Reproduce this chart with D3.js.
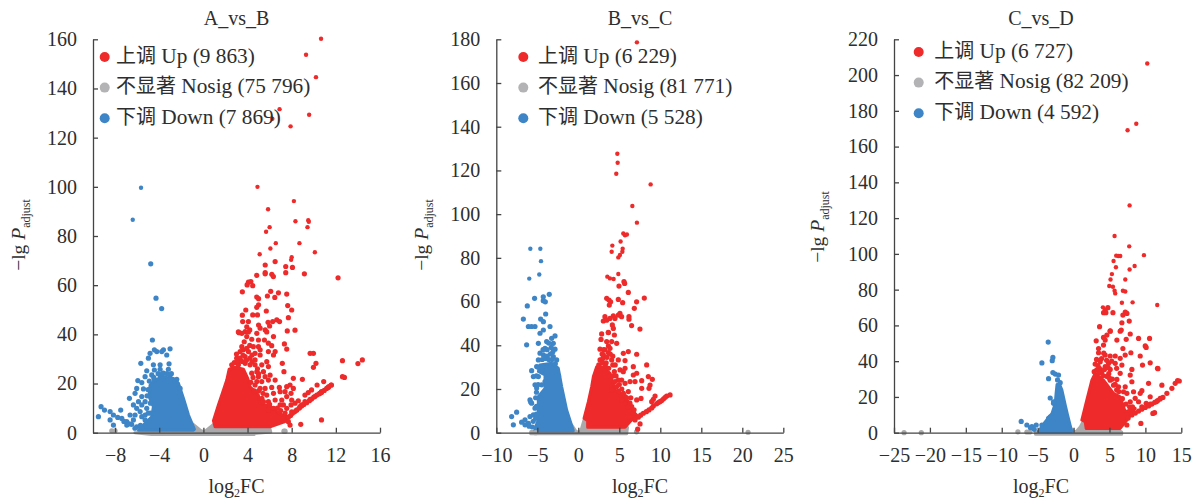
<!DOCTYPE html>
<html>
<head>
<meta charset="utf-8">
<script src="https://cdn.jsdelivr.net/npm/d3@7"></script>
<style>
  body { margin: 0; background: #fff; }
  text { font-family: "Liberation Serif", "Noto Sans CJK SC", serif; fill: #2e2e2e; }
</style>
</head>
<body>
<div id="chart"></div>
<script>
// legend
const legendCn = ["上调", "不显著", "下调"];
const legendEn = ["Up", "Nosig", "Down"];
const abCounts = ["9 863", "75 796", "7 869"];
const bcCounts = ["6 229", "81 771", "5 528"];
const cdCounts = ["6 727", "82 209", "4 592"];

// tick values
const abXTicks = [-8, -4, 0, 4, 8, 12, 16];
const abYTicks = [0, 20, 40, 60, 80, 100, 120, 140, 160];
const bcXTicks = [-10, -5, 0, 5, 10, 15, 20, 25];
const bcYTicks = [0, 20, 40, 60, 80, 100, 120, 140, 160, 180];
const cdXTicks = [-25, -20, -15, -10, -5, 0, 5, 10, 15];
const cdYTicks = [0, 20, 40, 60, 80, 100, 120, 140, 160, 180, 200, 220];

// the solid part of each volcano is too dense to read point by point,
// so it is kept as an outline [log2FC, -lg P]
const abUpCloud = [[1.06,2.4],[.91,4.9],[1.36,11.3],[1.72,16],[2.12,21.4],[2.33,25.8],[2.87,26.6],[3.63,25.8],[4.02,22.1],[4.23,18.7],[4.98,15.3],[5.14,12],[6.19,10.3],[6.95,7.6],[7.7,6.3],[7.4,4.5],[6.04,2.4]];
const abDownCloud = [[-5.88,1],[-5.28,3.8],[-4.68,6.5],[-4.53,10.6],[-4.92,14.7],[-4.83,19.4],[-4.53,20.8],[-3.77,22.8],[-2.71,22.1],[-2.26,20.1],[-1.81,14],[-1.35,7.2],[-.81,1.4],[-.9,1]];
const abNosigCloud = [[-4.7,-.7],[-6.2,0],[-1,.5],[-.95,3.5],[-.25,.9],[0,.4],[.25,.9],[.95,3.5],[1,2],[6,2.2],[6.1,.3],[4.6,-.3],[4.6,-.7]];

const bcUpCloud = [[1.14,2.5],[1.14,5.5],[.7,6.6],[1.23,14.2],[1.63,21.1],[1.84,25.7],[2.24,30.2],[2.85,30.2],[3.87,27.2],[4.48,19.6],[5.09,18],[6.1,14.2],[6.51,10.4],[7.12,8.1],[6.3,5],[5.7,2.5]];
const bcDownCloud = [[-5.28,.9],[-5.28,2],[-4.87,5.9],[-4.88,16.5],[-4.06,20.3],[-4.06,26.4],[-4.87,28],[-4.67,31],[-3.25,31.8],[-2.44,29.5],[-2.03,21.1],[-1.42,10.4],[-.61,.9]];
const bcNosigCloud = [[-5.8,-.5],[-5.8,.5],[-.85,.5],[-.8,3.5],[-.3,.7],[0,.3],[.3,.7],[.7,5.8],[1.1,5],[1.14,2.5],[6,2.5],[5.9,-.5]];

const cdUpCloud = [[1.76,2.4],[1.62,6.1],[1.15,7.1],[1.85,18.3],[2.55,29.4],[3.01,33.2],[4.17,29.4],[5.57,22],[6.49,20.1],[7.19,11.7],[8.58,13.6],[7.42,7.1],[6.49,2.4]];
const cdDownCloud = [[-4.87,.7],[-3.95,6],[-3,10.8],[-2.55,16.4],[-2.41,23],[-2.3,27],[-1.95,27],[-1.63,24],[-1.16,15.4],[-.84,10],[-.5,4.5],[-.25,.7]];
const cdNosigCloud = [[-5.3,-.9],[-5.3,.4],[-.25,.7],[-.2,2],[.1,.4],[.4,.8],[.9,3],[1.3,6],[1.76,2.4],[6,2],[6.7,.4],[6.7,-.9]];

// scattered points [log2FC, -lg P]
const abUp = [[10.66,160.2],[9.3,153.7],[10.2,144.6],[6.9,131.6],[6.25,127.7],[9.58,129.3],[7.9,124.6],[4.9,100],[8.2,94.2],[5.86,90.9],[9.5,86.4],[9.55,85.8],[8.34,86],[6,83.6],[9.43,83.6],[5.68,81.7],[6.56,77.1],[8.7,77.1],[6.07,74.9],
  [10.1,73.4],[5.1,72.6],[8,71.4],[7.95,70.3],[6.5,69.6],[5.6,68.2],[7.46,67.6],[8.07,67.2],[7.46,65.1],[5.6,65.1],[5.6,64.6],[9.15,64.6],[4.83,64],[6.2,64.4],[6.34,63.5],[12.2,63],[4.08,61.2],[4.3,61.5],[3.96,60.1],[4.47,59.8],[3.53,57.3],[6.1,57.5],[6.8,56.9],[7.55,56.4],[5.8,55.6],[4.83,55.2],[5,54.5],[6.47,55],[5,52],[4.83,51],[7.64,51.7],[3.84,49.9],[8,49.9],[5.7,49.5],[3.53,47.8],[4.47,47.9],[4.9,47.9],[7.7,46.8],[6.65,45.9],[6.9,45.2],[5.86,44.9],[6.28,45.2],[3.56,45.2],[4.08,45.2],[5,43.8],[3.93,43.1],[6,43.4],[8.3,41.7],[7.6,41.4],[5.6,41.8],[3.23,40.7],[3.78,41.1],[4.2,41.8],[5.14,42.5],
  [14.4,29.6],[14,28.1],[12.78,22.5],
  [3.17,41],[3.48,40.4],[4.08,41],[4.84,40.4],[5.74,41],[6.35,39.1],[4.99,37.7],[4.38,38],[3.93,39.1],[5.53,37.7],[5.89,36.4],[6.19,35.4],[3.48,35],[3.63,33.7],[3.93,34.3],[4.53,35],[4.99,35],[5.14,33.7],[4.68,32.3],[4.08,33],[3.33,33],[3.02,30.3],[3.33,30.3],[3.78,31],[4.23,30.3],[4.68,29.6],[5.14,31.6],[5.89,33],[6.5,33],[6.35,31.6],[5.74,28.9],[5.29,27.6],[4.68,27.6],[4.23,27.6],[3.78,28.2],[3.17,27.6],[2.57,27.6],[5.89,26.9],[5.44,24.8],[4.84,24.8],[4.38,24.2],[4.99,22.8],[5.59,22.8],[6.04,23.4],[5.89,21.4],[4.84,20.8],[5.29,20.8],[6.5,21.4],[5.14,18],[4.68,19.4],[5.59,18],[6.19,18.4],[6.88,18.4],[7.55,18.7],[7.85,19.4],[5.74,15.3],[6.35,16],[6.95,16.7],[7.4,16.7],[7.94,16],[8.15,18],[5.44,12.6],[5.89,12.6],[6.5,13.3],[7.1,13.3],[7.55,14.7],[7.25,11.3],[6.95,11.3],[5.89,9.2],[6.35,9.9],[7.55,9.9],[8,13.3],[8.3,12],[8.6,13],[7.94,11.3],[9.2,15.3],[9.5,16.3],[9.8,17.4],[10.3,19.4],[10.9,20.8],[8.15,22.1],[8.97,21.7],[10.7,16.7],[10.55,16],[11.3,18.4],[11.6,19.4],[9.2,12.6],[8.9,11.3],[9.67,13.6],[10.1,14.7],[8.45,9.2],[8,8.5],[8.75,10.6],[7.7,4.5],[7.85,3.1],[8.82,3.4],[10.7,5.2],[7.34,36.1],[7.55,34],[7.15,28.2],[7.3,24.8],[9.97,32.3],[9.67,32.3],[10.2,28.2],[9.97,26.6],[12.6,29.3],[12.6,22.8],
  [7.7,6.3],[7.9,7],[8.06,7.9],[8.26,8.5],[8.46,9.2],[8.7,10],[8.9,10.9],[9.1,11.5],[9.36,12.2],[9.6,13],[9.8,13.7],[10,14.5],[10.27,15.3],[10.5,15.8],[10.7,16.4],[10.95,17.2],[11.17,18],[11.37,18.7],[11.57,19.4],
  [2.8,28.5],[3.1,29],[3.5,29],[3.9,29.5],[4.4,28.8],[4.9,26],[5,24],[4.5,22.5],[4.3,20.5],[4.6,17],[5,17],[5.4,16],[3,32],[3.6,31.5],[4.4,31.6],[4.2,35.5],[3.7,37],[5.3,14],[6,11.5],[6.7,10],[7,9],[7.4,8]];
const abDown = [[-5.65,99.6],[-6.4,86.6],[-4.77,68.7],[-4.29,54.7],[-3.78,50.5],[-4.62,37.7],[-4.44,33.7],[-4.22,33],[-4.83,32.3],[-3.62,33.7],[-3.02,34.1],[-3.77,33],[-3.32,31.6],[-4.98,30.3],[-5.67,28.2],[-4.53,27.6],[-3.92,27.6],[-3.11,28],[-4.44,25.5],[-5.13,25.2],[-3.92,25.8],[-5.28,22.8],[-5.94,21.2],[-5.58,20.4],[-3.92,23.5],[-3.17,25.8],[-3.02,23.5],[-2.41,21.7],[-3.62,24.2],[-4.68,23.5],[-4.44,21.7],[-6.04,18],[-5.43,17.8],[-6.19,16],[-6.7,14],[-5.58,14.7],[-5.88,12.6],[-5.28,12.6],[-6.34,11.3],[-6.04,9.9],[-5.58,11.3],[-5.13,9.9],[-6.19,7.2],[-5.73,8.6],[-6.64,7.2],[-9.27,10.6],[-8.96,9.2],[-8.45,8.6],[-8.15,7.2],[-7.49,9.2],[-9.51,6.5],[-8.45,5.2],[-8.15,3.1],[-7.76,6.2],[-7.39,5.8],[-6.94,4.5],[-6.34,5.2],[-6.94,3.1],[-5.58,6.5],[-5.28,7.2],[-6.04,2.4],[-2.56,20.8],[-2.11,18],[-5.28,5.2],[-6.5,3.4],[-5.7,3],[-6.2,1.8],[-5.6,2],[-7.2,4.6],[-6.7,3.6],
  [-4.5,22.5],[-4.1,24],[-3.7,24],[-3.3,24],[-2.9,24],[-4.9,21],[-5,17.5],[-5.1,15],[-4.8,12],[-5,8],[-4.8,8],[-2.4,20]];
const abNosig = [[-8.3,.8],[-8,.8],[7.3,.6],[7.4,.6]];

const bcUp = [[7.15,178.6],[4.76,127.6],[4.8,123.5],[4.63,118.5],[8.82,113.6],[6.59,103.7],[7.15,96.1],[5.49,91.2],[5.69,90.3],[5.93,90.7],[5.16,87.5],[4.15,85.6],[5.41,84.2],[4.07,82.8],[5.37,82.8],[5.08,81.3],[4.88,80.2],
  [3.54,71.4],[3.86,70.6],[4.31,70.3],[4.88,72.6],[5.57,69.1],[5.65,68.3],[4.96,67.1],[6.1,64.2],[3.46,61.5],[3.74,60.7],[4.88,61],[5.41,59.5],[3.94,59.9],[3.78,58.4],[8.05,61.6],[7.11,59.9],[6.83,56.9],[5.08,54.6],[4.88,53.8],[4.27,53.5],[3.86,52.3],[3.25,53.1],[3.05,51.1],[3.46,51.5],[4.47,52.3],[5.28,53.1],[6.18,53.1],[6.18,51.9],[6.5,49],[7.52,47.4],[4.15,49.3],[4.27,47.7],[3.66,45.9],[2.85,45.2],[3.67,45.8],[4.4,44.7],[2.77,42.7],[3.46,41.7],[4.07,41.7],[4.68,40.9],[3.67,39.7],[2.65,38.2],[3.26,37.9],[3.87,38.6],[3.67,36.6],[3.06,35.6],[2.65,33.3],[4.07,33.3],[4.88,33.3],[5.49,36.3],[6.1,37.1],[7.12,35.9],[5.7,33],[6.71,30.2],[8.34,31],[5.7,29.5],[5.09,28.7],[5.49,27.9],[7.12,27.2],[6.71,26.4],[8.54,25.7],[9.03,24.4],[6.31,23.4],[6.92,23.4],[7.73,23.8],[8.75,21.8],[8.62,20.3],[7.73,20.3],[6.1,18.8],[7.12,15],[7.65,15.7],[9.36,16.8],[9.15,15.3],[8.95,14.2],[10.78,16.8],[11.19,17.3],[9.76,13.8],[9.15,12.2],[8.62,10.4],[7.93,8.9],[7.32,7.1],[6.71,8.9],[5.7,16.5],[5.29,15],[5.29,24.1],[4.88,24.1],[4.48,23.4],[4.68,21.1],[5.7,22.6],[4.07,19.6],[7.53,4],[7.24,1.6],[6.51,11.9],[6.1,11.9],[10.17,14.7],[6.92,5.8],[4.4,28],[4.2,31],[3.4,32],[3,34],[5.3,20],[6.4,16],[9.55,13.2],[8.95,11.3],[8.3,9.6],[7.6,8],[9.95,14.2],[10.4,15.5],[10.6,16.2],
  [2.5,31],[2.9,32],[3.3,30.5],[3.7,29.5],[4.2,26],[4.6,26],[4.2,35],[4.5,31],[3.5,34.5],[3.1,38],[4.9,19],[5,22],[5.5,18],[5.9,16],[6.3,13.5],[6.8,10.5],[3.9,36],[2.9,36]];
const bcDown = [[-5.85,84.2],[-4.63,84.2],[-4.55,78.5],[-4.76,72.4],[-5.98,70.5],[-3.54,63.3],[-4.27,62.2],[-4.27,60.4],[-4.02,59.9],[-5.33,61.5],[-6.22,58],[-3.98,54.3],[-6.7,52],[-4.59,52],[-4.26,50.8],[-6.09,48.6],[-5.28,48.6],[-5.7,48.6],[-3.45,48.6],[-4.26,47],[-4.67,45.5],[-2.84,44.3],[-3.25,43.2],[-3.86,41.7],[-3.05,40.9],[-4.87,40.9],[-6.3,40.2],[-4.06,38.6],[-2.84,38.2],[-4.67,36.4],[-4.26,35.6],[-3.05,34.8],[-4.87,33.3],[-2.64,33.3],[-5.08,30.3],[-5.69,28.4],[-4.47,28.7],[-5.48,25.7],[-4.87,25.7],[-5.28,21.9],[-5.08,20.4],[-5.89,15],[-5.69,13.5],[-5.81,14],[-5.28,11.2],[-7.52,9.4],[-8.13,7.4],[-7.92,3.6],[-6.5,5.9],[-6.91,4.8],[-6.09,4.3],[-5.89,7.4],[-5.48,8.2],[-4.06,23.4],[-4.47,21.9],[-3.6,41],[-3.3,39],[-3.8,38],[-4.3,38],[-3.4,36],[-3.8,35],[-3.1,37],[-6.5,3.6],[-6,3],[-5.6,2.6],[-5.5,5.2],[-5.2,6.6],
  [-4.4,33.5],[-4,34],[-3.6,33.5],[-3.2,33.5],[-2.8,31.5],[-4.9,30],[-5.1,26],[-4.9,22],[-5.1,18.5],[-5.2,16],[-5.1,12],[-5.1,8.5],[-2.4,26]];
const bcNosig = [[20.7,.2],[7.1,.4],[-5.2,0]];

const cdUp = [[10.26,206.5],[8.73,172.8],[7.52,169.1],[7.8,127.1],[5.71,110],[7.75,104.2],[9.8,99.3],[5.94,99],[6.22,98.8],[6.5,98.8],[5.57,96],[5.9,92.5],[8.5,93.2],[7.8,91.3],[5.34,88.7],[5.15,85.7],[7.2,85.7],[4.97,82],[5.48,81.6],[6.87,79.4],[7.2,79],[5.71,79.4],[5.8,77.9],[6.73,72.7],[8.22,72.9],[11.65,71.4],[4.09,70.1],[4.78,69.9],[4.41,68.6],[4.18,67.1],[4.5,67.1],[5.48,67.1],[7.2,67.5],[7.43,66.7],[6.87,65.8],[6.73,61.5],[7.75,62.4],[3.62,59.3],[5.1,56.9],[6.64,57.4],[7.89,55.2],
  [5.1,56.8],[6.49,56.8],[4.64,54.6],[4.17,53.3],[3.15,51.4],[4.4,51.8],[6.03,51.8],[7.33,52.2],[9.05,52.7],[10.58,52.7],[4.17,49],[3.48,47.1],[3.48,44.7],[6.87,47.1],[7.98,44.7],[7.19,43.4],[9.98,48.5],[10.11,47.7],[9.28,42.9],[4.4,43.4],[5.1,42.9],[5.8,42.9],[6.49,41.6],[3.71,39.7],[3.01,38.4],[4.87,38.8],[4.4,36.9],[5.8,38.8],[6.73,37.8],[9.6,37.8],[10.67,39.1],[11.69,36],[2.87,34.1],[3.94,34.1],[5.1,35.4],[6.49,33.2],[8.12,35.4],[7.89,32.2],[8.12,28.5],[6.03,29.8],[10.44,27.6],[12.3,26.6],[14.48,29.1],[14.15,27.6],[13.69,24.8],[12.99,22],[9.51,23.5],[9.28,22],[7.19,25.7],[7.42,22],[8.35,22.9],[8.58,19.2],[9.05,17.3],[10.67,20.1],[10.11,16.4],[9.51,14.5],[11.51,17.3],[12.07,19.2],[11.28,11.2],[11.04,10.8],[9.37,5.2],[7.89,17.3],[6.96,22.9],[6.26,25.7],[5.57,26.6],[5.1,29.4],[7.42,4.3],[10.67,16],[3.6,36],[4.3,35.4],[4.9,33],[5.4,30],[6,24],[14.72,28.9],[11.75,35.8],
  [7.6,8.2],[8.12,9.9],[8.6,11],[9.05,12.1],[9.5,13.1],[9.98,14.1],[10.45,15],[10.9,16],[11.3,17],[11.69,17.9],[12.05,18.8],[12.44,19.7],
  [3.2,35],[3.6,33.5],[4.1,32],[4.6,31.5],[5,30.5],[5.8,27],[6.3,23],[6.8,19],[7.3,16],[7.8,14.5],[8.2,14.5],[3.2,41],[3.9,41.5],[4.6,40.5],[5.3,40],[4.2,44.5],[6,36],[4.8,36.5],[3.4,37.5]];
const cdDown = [[-3.53,50.7],[-2.88,42.1],[-2.97,40.3],[-4.41,39],[-2.88,33.6],[-2.55,32.8],[-2.09,32.2],[-3.48,30.2],[-3.25,19.4],[-2.23,29.5],[-1.86,28],[-2.09,25.7],[-2.79,16.4],[-2.79,17.3],[-7.29,6.3],[-6.5,4.3],[-5.2,4.3],[-5.8,3.4],[-6,2.8],[-5.48,1.9],[-4.41,4.3],[-3.48,8],[-3.25,8.9]];
const cdNosig = [[-23.6,0],[-21.2,0],[-7.75,.5],[-6.5,.4],[-6.1,.4]];

const panels = [
  { title: "A_vs_B", xDomain: [-10, 16], yMax: 160, xRange: [93, 380], xTicks: abXTicks, yTicks: abYTicks, up: abUp, down: abDown, nosig: abNosig, upCloud: abUpCloud, downCloud: abDownCloud, nosigCloud: abNosigCloud, counts: abCounts, legendX: 104.7, legendTextX: 116, legendY: 57, labelX: 25, labelY: 235, titleX: 236.5 },
  { title: "B_vs_C", xDomain: [-10, 25], yMax: 180, xRange: [496.3, 783.3], xTicks: bcXTicks, yTicks: bcYTicks, up: bcUp, down: bcDown, nosig: bcNosig, upCloud: bcUpCloud, downCloud: bcDownCloud, nosigCloud: bcNosigCloud, counts: bcCounts, legendX: 523.3, legendTextX: 538, legendY: 57, labelX: 428, labelY: 235, titleX: 640 },
  { title: "C_vs_D", xDomain: [-25, 15], yMax: 220, xRange: [894, 1181.3], xTicks: cdXTicks, yTicks: cdYTicks, up: cdUp, down: cdDown, nosig: cdNosig, upCloud: cdUpCloud, downCloud: cdDownCloud, nosigCloud: cdNosigCloud, counts: cdCounts, legendX: 918.7, legendTextX: 934.3, legendY: 52, labelX: 824, labelY: 227, titleX: 1041 }
];

const RED = "#ee2a2a", GREY = "#a9a9ab", BLUE = "#3d85c6";
const plotTop = 39.3, plotBottom = 432.7;

const svg = d3.select("#chart").append("svg")
  .attr("width", 1196)
  .attr("height", 502)
  .style("display", "block");

panels.forEach(p => {
  const x = d3.scaleLinear().domain(p.xDomain).range(p.xRange);
  const y = d3.scaleLinear().domain([0, p.yMax]).range([plotBottom, plotTop]);
  const g = svg.append("g");
  const line = d3.line().x(d => x(d[0])).y(d => y(d[1]));

  // dense clouds
  [[p.nosigCloud, GREY], [p.downCloud, BLUE], [p.upCloud, RED]].forEach(([pts, color]) => {
    g.append("path")
      .attr("d", line(pts) + "Z")
      .attr("fill", color)
      .attr("stroke", color)
      .attr("stroke-width", 3)
      .attr("stroke-linejoin", "round");
  });

  // single points
  [[p.nosig, GREY], [p.down, BLUE], [p.up, RED]].forEach(([pts, color]) => {
    g.append("g").selectAll("circle")
      .data(pts)
      .enter()
      .append("circle")
      .attr("cx", d => x(d[0]))
      .attr("cy", d => y(d[1]))
      .attr("r", d => d[1] > 70 ? 2.2 : 2.6)
      .attr("fill", color);
  });

  // axes
  const xAxis = d3.axisBottom(x).tickValues(p.xTicks).tickFormat(d3.format("d"))
    .tickSizeInner(-5).tickSizeOuter(0).tickPadding(15);
  const yAxis = d3.axisLeft(y).tickValues(p.yTicks).tickFormat(d3.format("d"))
    .tickSizeInner(-5).tickSizeOuter(0).tickPadding(16);
  [g.append("g").attr("transform", `translate(0,${plotBottom})`).call(xAxis),
   g.append("g").attr("transform", `translate(${p.xRange[0]},0)`).call(yAxis)].forEach(a => {
    a.selectAll("path,line").attr("stroke", "#444").attr("stroke-width", 1.3);
    a.selectAll("text").attr("font-size", 20).attr("font-family", "Liberation Serif").attr("fill", "#2e2e2e");
  });

  // title and axis labels
  g.append("text").attr("x", p.titleX).attr("y", 25).attr("text-anchor", "middle")
    .attr("font-size", 20).text(p.title);

  const xl = g.append("text").attr("x", p.titleX).attr("y", 493).attr("text-anchor", "middle").attr("font-size", 20);
  xl.append("tspan").text("log");
  xl.append("tspan").attr("font-size", 12).attr("dy", 4).text("2");
  xl.append("tspan").attr("dy", -4).text("FC");

  const yl = g.append("text").attr("transform", `translate(${p.labelX},${p.labelY}) rotate(-90)`)
    .attr("text-anchor", "middle").attr("font-size", 19.5);
  yl.append("tspan").text("−lg ");
  yl.append("tspan").attr("font-style", "italic").text("P");
  yl.append("tspan").attr("font-size", 12).attr("dy", 5).text("adjust");

  // legend
  const colors = [RED, "#b3b3b5", BLUE];
  legendCn.forEach((name, i) => {
    const ly = p.legendY + i * 30.6;
    g.append("circle").attr("cx", p.legendX).attr("cy", ly).attr("r", 5).attr("fill", colors[i]);
    const t = g.append("text").attr("x", p.legendTextX).attr("y", ly + 5.5).attr("font-size", 21.3);
    t.append("tspan").attr("font-size", 20).text(name);
    t.append("tspan").text(` ${legendEn[i]} (${p.counts[i]})`);
  });
});
</script>
</body>
</html>
